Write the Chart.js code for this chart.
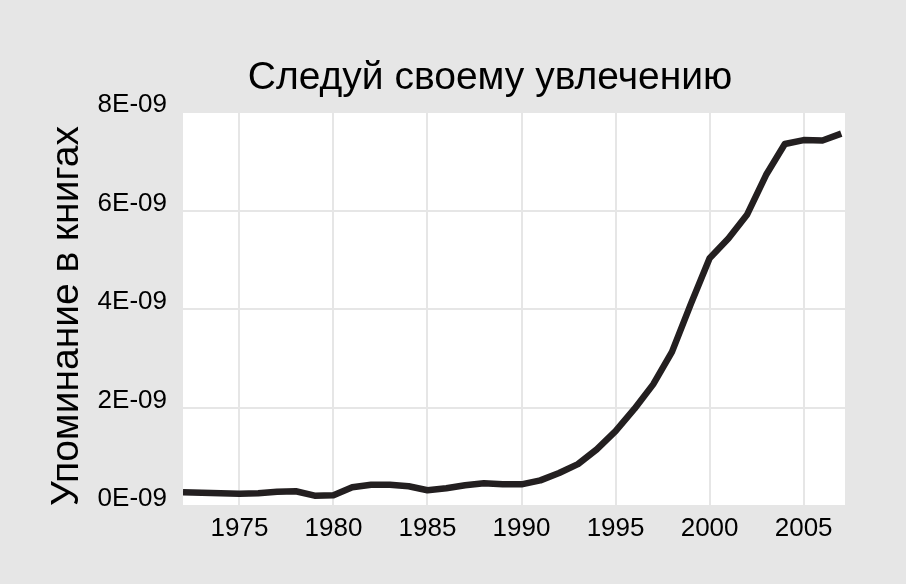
<!DOCTYPE html>
<html>
<head>
<meta charset="utf-8">
<script src="https://cdn.jsdelivr.net/npm/chart.js@4.4.1/dist/chart.umd.min.js"></script>
<style>
  html, body { margin: 0; padding: 0; background: #e6e6e6; }
  canvas { display: block; }
</style>
</head>
<body>
<canvas id="myChart" width="906" height="584"></canvas>
<script>
const title = 'Следуй своему увлечению';
const yTitle = 'Упоминание в книгах';

const years = [1972, 1973, 1974, 1975, 1976, 1977, 1978, 1979, 1980, 1981, 1982, 1983,
  1984, 1985, 1986, 1987, 1988, 1989, 1990, 1991, 1992, 1993, 1994, 1995, 1996, 1997,
  1998, 1999, 2000, 2001, 2002, 2003, 2004, 2005, 2006, 2007];
const mentions = [0.28, 0.27, 0.26, 0.25, 0.26, 0.29, 0.30, 0.21, 0.22, 0.38, 0.43, 0.43,
  0.40, 0.32, 0.36, 0.42, 0.46, 0.44, 0.44, 0.52, 0.67, 0.85, 1.15, 1.52, 1.97, 2.47,
  3.13, 4.10, 5.03, 5.43, 5.92, 6.72, 7.35, 7.43, 7.42, 7.56].map(v => v * 1e-9);

const xTicks = [1975, 1980, 1985, 1990, 1995, 2000, 2005];
const yTicks = [0, 2e-9, 4e-9, 6e-9, 8e-9];
const yTickLabels = ['0E-09', '2E-09', '4E-09', '6E-09', '8E-09'];

const FONT = "'Liberation Sans', Arial, sans-serif";

// grey page, white panel, and the two titles
const backdrop = {
  id: 'backdrop',
  beforeDraw(chart) {
    const { ctx, chartArea: a } = chart;
    ctx.save();
    ctx.fillStyle = '#e6e6e6';
    ctx.fillRect(0, 0, chart.width, chart.height);
    ctx.fillStyle = '#ffffff';
    ctx.fillRect(a.left, a.top, a.right - a.left, a.bottom - a.top);
    ctx.restore();
  },
  afterDraw(chart) {
    const { ctx } = chart;
    ctx.save();
    ctx.fillStyle = '#000000';
    ctx.font = '39px ' + FONT;
    ctx.textAlign = 'center';
    ctx.textBaseline = 'alphabetic';
    ctx.fillText(title, 490, 89);

    ctx.translate(67, 316);
    ctx.rotate(-Math.PI / 2);
    ctx.textBaseline = 'middle';
    ctx.fillText(yTitle, 0, 0);
    ctx.restore();
  },
};

const ctx = document.getElementById('myChart').getContext('2d');

const chart = new Chart(ctx, {
  type: 'line',
  data: {
    datasets: [
      {
        label: 'mentions',
        data: years.map((y, i) => ({ x: y, y: mentions[i] })),
        borderColor: '#231f20',
        borderWidth: 6.5,
        pointRadius: 0,
        tension: 0,
        borderJoinStyle: 'round',
      },
    ],
  },
  options: {
    responsive: false,
    animation: false,
    layout: { padding: { top: 112, right: 61, left: 0, bottom: 0 } },
    plugins: {
      legend: { display: false },
      tooltip: { enabled: false },
    },
    scales: {
      x: {
        type: 'linear',
        min: 1972,
        max: 2007.2,
        afterBuildTicks: (scale) => {
          scale.ticks = xTicks.map(v => ({ value: v }));
        },
        afterFit: (scale) => { scale.height = 78; },
        grid: { color: '#e6e6e6', lineWidth: 2, drawTicks: false },
        border: { display: false },
        ticks: {
          color: '#000000',
          font: { family: FONT, size: 26 },
          padding: 7,
          maxRotation: 0,
          callback: (value) => String(value),
        },
      },
      y: {
        min: 0,
        max: 8e-9,
        afterBuildTicks: (scale) => {
          scale.ticks = yTicks.map(v => ({ value: v }));
        },
        afterFit: (scale) => { scale.width = 183; },
        grid: { color: '#e6e6e6', lineWidth: 2, drawTicks: false },
        border: { display: false },
        ticks: {
          color: '#000000',
          font: { family: FONT, size: 26 },
          padding: 16,
          labelOffset: -7,
          callback: (value) => yTickLabels[yTicks.indexOf(value)],
        },
      },
    },
  },
  plugins: [backdrop],
});
</script>
</body>
</html>
